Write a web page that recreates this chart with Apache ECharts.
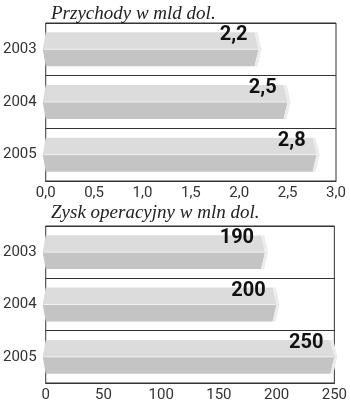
<!DOCTYPE html>
<html><head><meta charset="utf-8">
<script src="https://cdn.jsdelivr.net/npm/echarts@6/dist/echarts.min.js"></script>
<style>html,body{margin:0;padding:0;background:#fff}#c{width:350px;height:403px}</style>
</head><body><div id="c"></div>
<script>
const years = ['2003', '2004', '2005'];
const revenue = [2.2, 2.5, 2.8];
const profit = [190, 200, 250];
const revenueTicks = { min: 0, max: 3, interval: 0.5 };
const profitTicks = { min: 0, max: 250, interval: 50 };
const titleRevenue = 'Przychody w mld dol.';
const titleProfit = 'Zysk operacyjny w mln dol.';

const fmt = v => String(v).replace('.', ',');

function renderBar(params, api) {
  const v = api.value(0), cat = api.value(1);
  const p0 = api.coord([0, cat]);
  const p1 = api.coord([v, cat]);
  const bh = api.size([0, 1])[1] * 0.645;
  const yc = p0[1], yt = yc - bh / 2, yb = yc + bh / 2;
  const x0 = p0[0];
  const tip = p1[0] + 3;
  const xe = tip - 7;
  return {
    type: 'group',
    children: [
      { type: 'polygon', shape: { points: [[x0 - 3, yc], [x0, yt], [xe, yt], [xe + 4, yc]] }, style: { fill: '#dcdcdc' } },
      { type: 'polygon', shape: { points: [[x0 - 3, yc], [xe + 4, yc], [xe, yb], [x0, yb]] }, style: { fill: '#c4c4c4' } },
      { type: 'polygon', shape: { points: [[xe, yt], [xe + 3, yt], [tip, yc], [xe + 3, yb], [xe, yb], [xe + 4, yc]] }, style: { fill: '#ececec' } },
      { type: 'line', shape: { x1: x0 - 2, y1: yc, x2: xe + 4, y2: yc }, style: { stroke: '#efefef', lineWidth: 1 } },
      { type: 'text', style: { text: fmt(v), x: tip - 14, y: yt + 3, textAlign: 'right', textVerticalAlign: 'middle', font: 'bold 20px Roboto', fill: '#111' } }
    ]
  };
}

const axisLabelStyle = { color: '#333', fontFamily: 'Roboto', fontSize: 15 };
const titleStyle = { fontFamily: 'Liberation Serif', fontStyle: 'italic', fontWeight: 'normal', fontSize: 19, color: '#222' };

const chart = echarts.init(document.getElementById('c'));
chart.setOption({
  animation: false,
  backgroundColor: '#fff',
  title: [
    { text: titleRevenue, left: 46, top: -1, textStyle: titleStyle },
    { text: titleProfit, left: 46, top: 198, textStyle: titleStyle }
  ],
  grid: [
    { left: 45, right: 14, top: 23, height: 158, show: true, borderColor: '#333', borderWidth: 1, backgroundColor: 'transparent' },
    { left: 45, right: 14, top: 226, height: 157, show: true, borderColor: '#333', borderWidth: 1, backgroundColor: 'transparent' }
  ],
  xAxis: [
    { gridIndex: 0, type: 'value', min: revenueTicks.min, max: revenueTicks.max, interval: revenueTicks.interval,
      axisLine: { show: true, lineStyle: { color: '#333' } }, axisTick: { show: false }, splitLine: { show: false },
      axisLabel: Object.assign({ margin: 5, formatter: v => v.toFixed(1).replace('.', ',') }, axisLabelStyle) },
    { gridIndex: 1, type: 'value', min: profitTicks.min, max: profitTicks.max, interval: profitTicks.interval,
      axisLine: { show: true, lineStyle: { color: '#333' } }, axisTick: { show: false }, splitLine: { show: false },
      axisLabel: Object.assign({ margin: 5 }, axisLabelStyle) }
  ],
  yAxis: [
    { gridIndex: 0, type: 'category', data: years, inverse: true,
      axisLine: { show: false }, axisTick: { show: false },
      splitLine: { show: true, lineStyle: { color: '#333' } },
      axisLabel: Object.assign({ margin: 9 }, axisLabelStyle) },
    { gridIndex: 1, type: 'category', data: years, inverse: true,
      axisLine: { show: false }, axisTick: { show: false },
      splitLine: { show: true, lineStyle: { color: '#333' } },
      axisLabel: Object.assign({ margin: 9 }, axisLabelStyle) }
  ],
  series: [
    { type: 'custom', xAxisIndex: 0, yAxisIndex: 0, clip: false, renderItem: renderBar,
      encode: { x: 0, y: 1 }, data: revenue.map((v, i) => [v, i]) },
    { type: 'custom', xAxisIndex: 1, yAxisIndex: 1, clip: false, renderItem: renderBar,
      encode: { x: 0, y: 1 }, data: profit.map((v, i) => [v, i]) }
  ]
});
</script></body></html>
